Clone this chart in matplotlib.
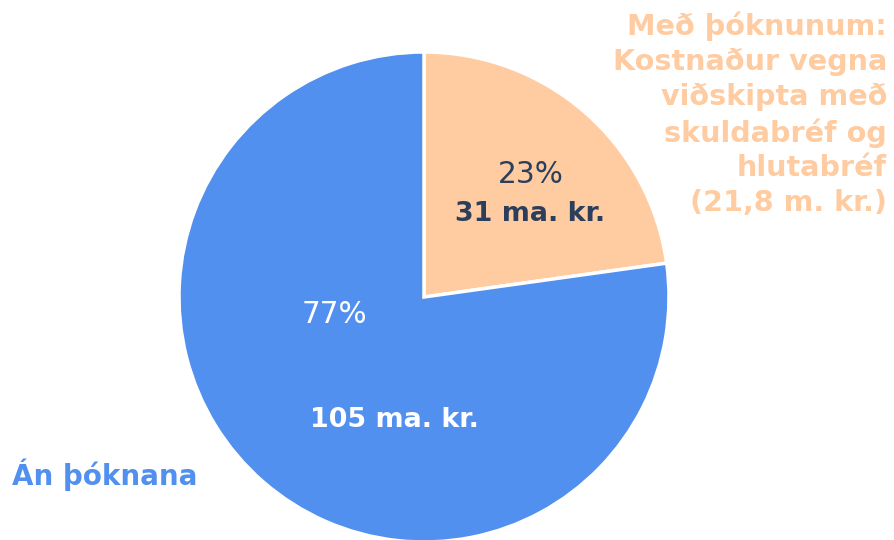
import matplotlib.pyplot as plt

# segments: með þóknunum / án þóknana (ma. kr.)
labels = ['Með þóknunum:\nKostnaður vegna\nviðskipta með\nskuldabréf og\nhlutabréf\n(21,8 m. kr.)', 'Án þóknana']
values = [31, 105]
amount_labels = ['31 ma. kr.', '105 ma. kr.']
colors = ['#FFCBA1', '#5190EE']
text_colors = ['#2B3F5C', 'white']

plt.rcParams['font.family'] = ['DejaVu Sans']

fig = plt.figure(figsize=(8.94, 5.40), dpi=100)
ax = fig.add_axes([179 / 894, -2 / 540, 490 / 894, 490 / 540])

wedges, _ = ax.pie(values, colors=colors, startangle=90, counterclock=False,
                   radius=1, wedgeprops=dict(edgecolor='white', linewidth=2.5))
ax.set_xlim(-1, 1)
ax.set_ylim(-1, 1)
ax.set_aspect('equal')
ax.axis('off')

total = sum(values)
pct = [round(v / total * 100) for v in values]

# percent + amount inside each slice
pct_pos = [(0.437, 0.498), (-0.365, -0.073)]
amt_pos = [(0.431, 0.339), (-0.122, -0.502)]
for i in range(len(values)):
    ax.text(pct_pos[i][0], pct_pos[i][1], '%d%%' % pct[i], ha='center', va='center',
            fontsize=21.3, color=text_colors[i])
    ax.text(amt_pos[i][0], amt_pos[i][1], amount_labels[i], ha='center', va='center',
            fontsize=19.4, fontweight='bold', color=text_colors[i])

# category labels outside
ax.text(1.89, 0.745, labels[0], ha='right', va='center', multialignment='right',
        fontsize=20.6, fontweight='bold', color=colors[0], linespacing=1.31)
ax.text(-1.682, -0.724, labels[1], ha='left', va='center',
        fontsize=20, fontweight='bold', color=colors[1])

fig.savefig('out.png', dpi=100)
